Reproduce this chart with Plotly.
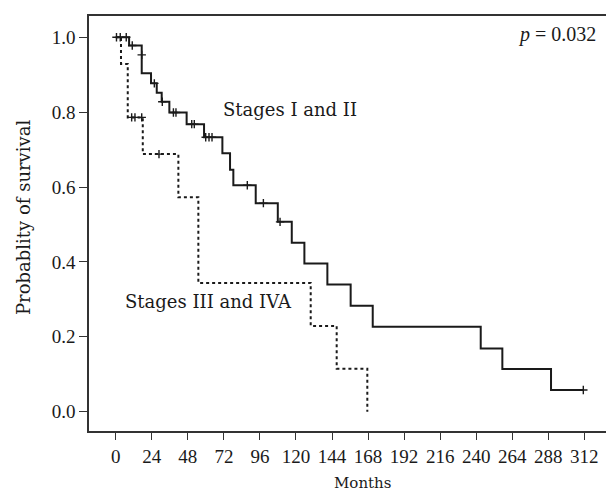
import plotly.graph_objects as go

# Kaplan-Meier steps (months, survival)
early_t = [0, 8.9, 17.3, 23.5, 27.3, 30.6, 35.7, 47.2, 58.8, 71.0, 76.1, 78.3, 93.2,
           107.9, 117.2, 125.6, 140.9, 156.4, 171.1, 243.0, 257.4, 289.8, 311.3]
early_s = [1.0, 0.978, 0.904, 0.877, 0.852, 0.828, 0.799, 0.768, 0.733, 0.690, 0.646, 0.605, 0.557,
           0.507, 0.451, 0.396, 0.340, 0.283, 0.227, 0.169, 0.114, 0.058, 0.058]
early_cens_t = [0.5, 7.0, 11.0, 17.3, 25.7, 31.0, 38.4, 40.1, 50.6, 52.3, 59.9, 62.1, 64.1, 87.6, 98.3, 109.4, 311.3]
early_cens_s = [1.0, 1.0, 0.978, 0.953, 0.877, 0.828, 0.799, 0.799, 0.768, 0.768, 0.733, 0.733, 0.733, 0.605, 0.557, 0.507, 0.058]

late_t = [0, 3.5, 8.0, 18.0, 41.7, 55.0, 129.8, 147.1, 167.5]
late_s = [1.0, 0.929, 0.786, 0.688, 0.573, 0.344, 0.229, 0.115, 0.0]
late_cens_t = [3.0, 10.6, 12.8, 17.3, 28.8]
late_cens_s = [1.0, 0.786, 0.786, 0.786, 0.688]

x_ticks = [0, 24, 48, 72, 96, 120, 144, 168, 192, 216, 240, 264, 288, 312]
y_ticks = [0.0, 0.2, 0.4, 0.6, 0.8, 1.0]

NUMFONT = "Liberation Serif"
WORDFONT = "DejaVu Serif"
INK = "#1a1a1a"

# plot box starts at 89 x 16..431; it runs past the window's right edge (no right frame)
FW, FH = 620, 491
ML, MT, MR, MB = 89, 16, 0, 60
PW = FW - ML - MR
PH = FH - MT - MB

def px(xw):
    return (xw - ML) / PW

def py(yw):
    return (MT + PH - yw) / PH

fig = go.Figure()
fig.add_trace(go.Scatter(x=early_t, y=early_s, mode="lines", line_shape="hv",
                         line=dict(color=INK, width=2), showlegend=False))
fig.add_trace(go.Scatter(x=early_cens_t, y=early_cens_s, mode="markers",
                         marker=dict(symbol="cross-thin", size=6, line=dict(color=INK, width=1.4)),
                         showlegend=False))
fig.add_trace(go.Scatter(x=late_t, y=late_s, mode="lines", line_shape="hv",
                         line=dict(color=INK, width=2, dash="3px,3px"), showlegend=False))
fig.add_trace(go.Scatter(x=late_cens_t, y=late_cens_s, mode="markers",
                         marker=dict(symbol="cross-thin", size=6, line=dict(color=INK, width=1.4)),
                         showlegend=False))

fig.add_annotation(x=116, y=0.806, text="Stages I and II", showarrow=False,
                   font=dict(family=WORDFONT, size=18, color=INK))
fig.add_annotation(x=62, y=0.294, text="Stages III and IVA", showarrow=False,
                   font=dict(family=WORDFONT, size=18, color=INK))
fig.add_annotation(xref="paper", yref="paper", x=px(598), y=py(34), xanchor="right", yanchor="middle",
                   text="<i>p</i> = 0.032", showarrow=False,
                   font=dict(family=NUMFONT, size=20, color=INK))
fig.add_annotation(xref="paper", yref="paper", x=px(362), y=py(483), yanchor="middle",
                   text="Months", showarrow=False, font=dict(family=WORDFONT, size=15, color=INK))
fig.add_annotation(xref="paper", yref="paper", x=px(23), y=py(218), textangle=-90,
                   xanchor="center", yanchor="middle",
                   text="Probablity of survival", showarrow=False,
                   font=dict(family=WORDFONT, size=18, color=INK))

fig.update_xaxes(range=[-17.8, -17.8 + PW / 1.502], tickvals=x_ticks, ticktext=[str(v) for v in x_ticks],
                 ticks="outside", ticklen=7, tickwidth=1.3, tickcolor="#333",
                 showline=True, linecolor="#333", linewidth=1.5, mirror=True,
                 showgrid=False, zeroline=False,
                 tickfont=dict(family=NUMFONT, size=19, color=INK))
fig.update_yaxes(range=[-0.0516, 1.0569], tickvals=y_ticks, ticktext=[f"{v:.1f}" for v in y_ticks],
                 ticks="outside", ticklen=8, tickwidth=1.3, tickcolor="#333",
                 showline=True, linecolor="#333", linewidth=1.5,
                 showgrid=False, zeroline=False,
                 tickfont=dict(family=NUMFONT, size=19, color=INK))

fig.update_layout(width=FW, height=FH, margin=dict(l=ML, r=MR, t=MT, b=MB, autoexpand=False),
                  plot_bgcolor="white", paper_bgcolor="white", showlegend=False)

fig.write_html(
    "out.html",
    config={"displayModeBar": False},
    post_script="document.body.style.margin='0';document.body.style.overflow='hidden';"
                "document.documentElement.style.overflow='hidden';",
)
